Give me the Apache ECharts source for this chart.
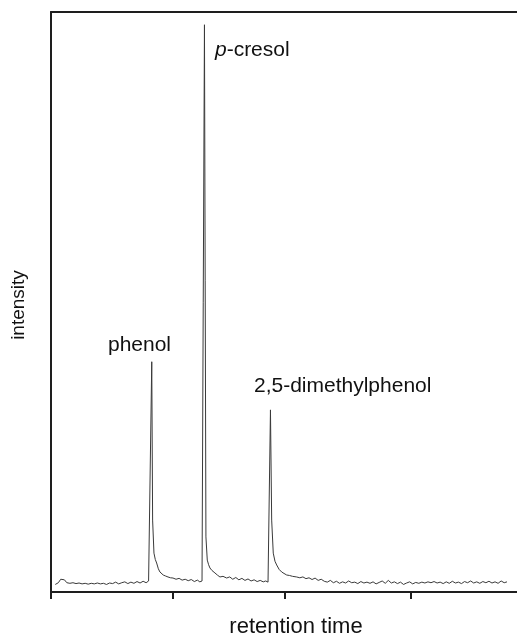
<!DOCTYPE html>
<html>
<head>
<meta charset="utf-8">
<script src="https://cdn.jsdelivr.net/npm/echarts@6/dist/echarts.min.js"></script>
<style>
  html, body { margin: 0; padding: 0; background: #fff; }
  #chart { width: 517px; height: 637px; }
</style>
</head>
<body>
<div id="chart"></div>
<script>
// Chromatogram trace: retention time (arbitrary units) and detector intensity (% of full scale)
const retention = [
  0.35, 0.6, 0.8, 0.95, 1.1, 1.3, 1.55, 1.8, 2.05, 2.3, 2.55, 2.8, 3.05, 3.3, 3.55, 3.8,
  4.05, 4.3, 4.55, 4.8, 5.05, 5.3, 5.55, 5.8, 6.05, 6.3, 6.55, 6.8, 7.05, 7.3, 7.55, 7.8,
  8.0, 8.14, 8.17, 8.26, 8.33, 8.44, 8.55, 8.66, 8.8, 8.93, 9.05, 9.2, 9.4, 9.59, 9.8, 10.0,
  10.25, 10.5, 10.75, 11.0, 11.25, 11.5, 11.75, 12.0, 12.2, 12.38, 12.43, 12.58, 12.7, 12.81,
  12.92, 13.03, 13.2, 13.44, 13.65, 13.85, 14.1, 14.4, 14.65, 14.9, 15.15, 15.4, 15.65, 15.9,
  16.15, 16.4, 16.65, 16.9, 17.15, 17.4, 17.6, 17.79, 17.99, 18.09, 18.22, 18.36, 18.5, 18.7,
  18.91, 19.1, 19.32, 19.55, 19.8, 20.14, 20.4, 20.65, 20.9, 21.15, 21.4, 21.65, 21.9, 22.15,
  22.4, 22.65, 22.9, 23.15, 23.4, 23.65, 23.9, 24.15, 24.4, 24.65, 24.9, 25.15, 25.4, 25.65,
  25.9, 26.15, 26.4, 26.65, 26.9, 27.15, 27.4, 27.65, 27.9, 28.15, 28.4, 28.65, 28.9, 29.15,
  29.4, 29.65, 29.9, 30.15, 30.4, 30.65, 30.9, 31.15, 31.4, 31.65, 31.9, 32.15, 32.4, 32.65,
  32.9, 33.15, 33.4, 33.65, 33.9, 34.15, 34.4, 34.65, 34.9, 35.15, 35.4, 35.65, 35.9, 36.15,
  36.4, 36.65, 36.9, 37.15, 37.38
];
const intensity = [
  1.3, 1.6, 2.2, 1.9, 2.1, 1.6, 1.5, 1.6, 1.45, 1.55, 1.4, 1.5, 1.35, 1.5, 1.4, 1.55,
  1.4, 1.5, 1.3, 1.55, 1.45, 1.7, 1.4, 1.6, 1.75, 1.45, 1.7, 1.5, 1.8, 1.55, 1.85, 1.6,
  1.9, 1.65, 1.7, 39.7, 12.4, 6.7, 5.6, 5.0, 4.0, 3.45, 3.3, 2.93, 2.75, 2.59, 2.45, 2.41,
  2.2, 2.35, 2.05, 2.2, 1.95, 2.15, 1.8, 2.05, 1.75, 1.9, 1.65, 97.8, 9.5, 5.5,
  4.7, 4.14, 3.7, 3.28, 2.9, 2.59, 2.7, 2.41, 2.6, 2.2, 2.5, 2.1, 2.35, 2.0,
  2.25, 1.9, 2.1, 1.8, 2.0, 1.75, 1.9, 1.7, 31.4, 12.4, 6.7, 5.3, 4.66, 3.9,
  3.45, 3.2, 2.93, 2.85, 2.7, 2.59, 2.45, 2.6, 2.3, 2.45, 2.15, 2.4, 2.0, 2.2,
  1.85, 1.7, 2.0, 1.6, 1.85, 1.5, 1.75, 1.55, 1.9, 1.6, 1.7, 1.45, 1.8, 1.55,
  1.7, 1.5, 1.75, 1.4, 1.65, 1.9, 1.5, 2.0, 1.55, 1.75, 1.45, 1.7, 1.3, 1.55,
  1.75, 1.4, 1.65, 1.5, 1.7, 1.55, 1.75, 1.6, 1.8, 1.55, 1.7, 1.45, 1.75, 1.5,
  1.85, 1.55, 1.7, 1.45, 1.8, 1.6, 1.9, 1.55, 1.75, 1.5, 1.8, 1.6, 1.85, 1.55,
  1.75, 1.5, 1.9, 1.6, 1.75
];

// Peak annotations: text, left anchor (retention), vertical centre (intensity)
const peakNames = ['phenol', '{it|p}-cresol', '2,5-dimethylphenol'];
const peakLabelX = [4.67, 13.44, 16.64];
const peakLabelY = [42.6, 93.4, 35.5];

// Tick positions along the time axis (no labels are printed)
const timeTicks = [0, 10, 19.2, 29.5];

const trace = retention.map((t, i) => [t, intensity[i]]);
const labelPoints = peakNames.map((n, i) => ({ value: [peakLabelX[i], peakLabelY[i]], name: n }));

const FONT = '"Liberation Sans", Arial, Helvetica, sans-serif';
const INK = '#1e1e1e';
const TEXT = '#111111';

const chart = echarts.init(document.getElementById('chart'), null, { renderer: 'canvas' });
chart.setOption({
  animation: false,
  backgroundColor: '#ffffff',
  grid: { left: 51, right: 0, top: 12, bottom: 45, containLabel: false },
  xAxis: [
    {
      type: 'value', min: 0, max: 38.2, position: 'bottom',
      axisLine: { show: true, onZero: false, lineStyle: { color: INK, width: 2 } },
      axisTick: { show: true, inside: false, length: 7, lineStyle: { color: INK, width: 2 }, customValues: timeTicks },
      axisLabel: { show: false },
      splitLine: { show: false }
    },
    {
      type: 'value', min: 0, max: 38.2, position: 'top',
      axisLine: { show: true, onZero: false, lineStyle: { color: INK, width: 2 } },
      axisTick: { show: false }, axisLabel: { show: false }, splitLine: { show: false }
    }
  ],
  yAxis: {
    type: 'value', min: 0, max: 100,
    axisLine: { show: true, onZero: false, lineStyle: { color: INK, width: 2 } },
    axisTick: { show: false }, axisLabel: { show: false }, splitLine: { show: false }
  },
  series: [
    {
      type: 'line', xAxisIndex: 0, data: trace, showSymbol: false, symbol: 'none',
      lineStyle: { color: '#3a3a3a', width: 1 }, z: 3
    },
    {
      type: 'scatter', xAxisIndex: 0, data: labelPoints, symbolSize: 0, silent: true,
      itemStyle: { opacity: 1 },
      label: {
        show: true, position: [0, 0], align: 'left', verticalAlign: 'middle',
        formatter: p => p.name,
        color: TEXT, fontFamily: FONT, fontSize: 21,
        rich: { it: { fontStyle: 'italic', fontFamily: FONT, fontSize: 21, color: TEXT } }
      }
    }
  ],
  graphic: [
    {
      type: 'text', x: 19, y: 305, rotation: Math.PI / 2,
      style: { text: 'intensity', fill: TEXT, font: '19px ' + FONT, align: 'center', verticalAlign: 'middle' }
    },
    {
      type: 'text', x: 296, y: 627,
      style: { text: 'retention time', fill: TEXT, font: '22px ' + FONT, align: 'center', verticalAlign: 'middle' }
    }
  ]
});
</script>
</body>
</html>
